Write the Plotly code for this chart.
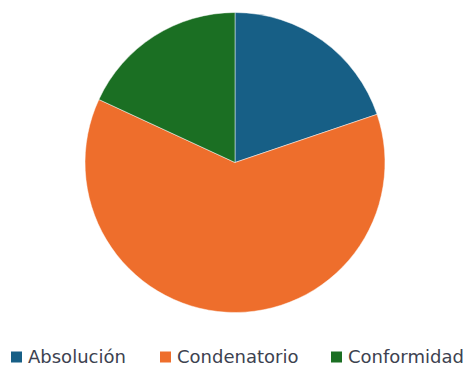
import plotly.graph_objects as go

labels = ["Absolución", "Condenatorio", "Conformidad"]
values = [19.8, 62.1, 18.1]
colors = ["#175f86", "#ee6e2c", "#1b6f23"]

W, H = 472, 367

fig = go.Figure(go.Pie(
    labels=labels,
    values=values,
    sort=False,
    direction="clockwise",
    rotation=0,
    textinfo="none",
    hoverinfo="label+percent",
    showlegend=False,
    marker=dict(colors=colors, line=dict(color="rgba(255,255,255,0.6)", width=0.8)),
    domain=dict(x=[85 / W, 385 / W], y=[1 - 312.5 / H, 1 - 12.5 / H]),
))

# custom legend (square marker + label) built from labels / colors
square_x = [11, 160, 331]   # px, left edge of each legend square
sq = 11
legend_y = 356
shapes = []
annotations = []
for lab, col, x0 in zip(labels, colors, square_x):
    shapes.append(dict(
        type="rect", xref="paper", yref="paper",
        x0=x0 / W, x1=(x0 + sq) / W,
        y0=1 - (legend_y + 1 + sq / 2) / H, y1=1 - (legend_y + 1 - sq / 2) / H,
        fillcolor=col, line=dict(width=0),
    ))
    annotations.append(dict(
        text=lab, xref="paper", yref="paper",
        x=(x0 + sq + 5) / W, y=1 - legend_y / H,
        xanchor="left", yanchor="middle", showarrow=False,
        borderpad=0,
        font=dict(family="DejaVu Sans", size=18, color="#3d4250"),
    ))

fig.update_layout(
    width=W, height=H,
    margin=dict(l=0, r=0, t=0, b=0, autoexpand=False),
    paper_bgcolor="white",
    plot_bgcolor="white",
    shapes=shapes,
    annotations=annotations,
)

fig.write_html("out.html")
